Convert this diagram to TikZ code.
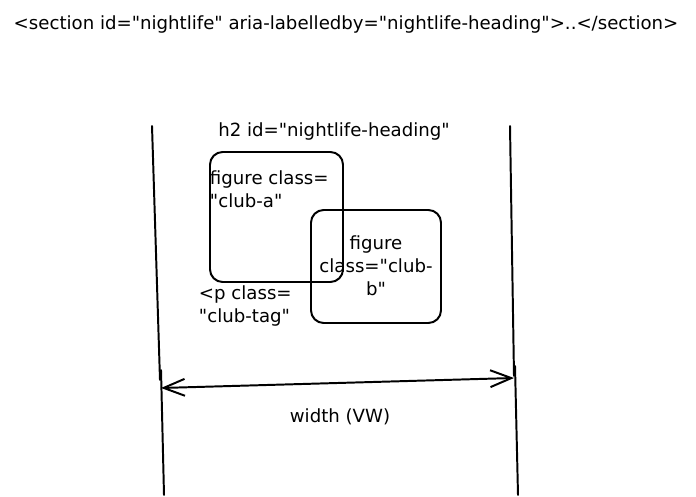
\documentclass[tikz,border=0pt]{standalone}
\usepackage{fontspec}
\setmainfont{DejaVu Sans}[Ligatures=TeXOff]
\usetikzlibrary{arrows.meta}
\begin{document}
\begin{tikzpicture}[x=0.025cm, y=-0.025cm, line width=1.4pt, line cap=round, line join=round,
  lbl/.style={inner sep=0pt, font=\fontsize{12.9}{16.5}\selectfont},
  clubbox/.style={draw, rounded corners=9pt, inner sep=0pt}]
\useasboundingbox (0,0) rectangle (696,497);
% section tag at the top
\node[lbl] (sectiontag) at (346,25) {<section id="nightlife" aria-labelledby="nightlife-heading">..</section>};
% walls of the section
\draw (152,126) -- (160,380);
\draw (161,370) -- (164,495);
\draw (510,126) -- (514,376);
\draw (515,366) -- (518,495);
\coordinate (leftwall) at (161,388);
\coordinate (rightwall) at (514,378);
% heading
\node[lbl] (heading) at (334,131) {h2 id="nightlife-heading"};
% the two figures
\node[clubbox, minimum width=133*0.025cm, minimum height=130*0.025cm] (clubA) at (276.5,217) {};
\node[clubbox, minimum width=130*0.025cm, minimum height=113*0.025cm] (clubB) at (376,266.5) {};
\node[lbl, align=left, anchor=north west] (clubAtext) at (209,170) {figure class=\\"club-a"};
\node[lbl, align=center] (clubBtext) at (376,266) {figure\\class="club-\\b"};
\node[lbl, align=left, anchor=north west] (tagtext) at (198,285) {<p class=\\"club-tag"};
% viewport width
\draw[<->, >={Straight Barb[length=15pt, width=12pt]}] (leftwall) -- (rightwall);
\node[lbl] (widthlbl) at (340,417) {width (VW)};
\end{tikzpicture}
\end{document}
